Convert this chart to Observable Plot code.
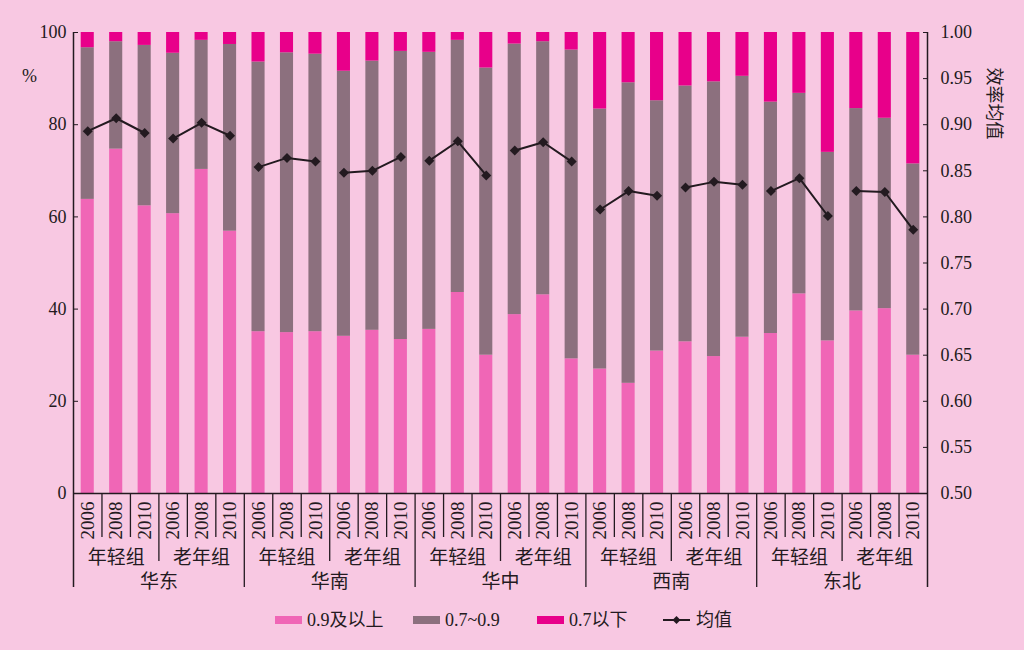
<!DOCTYPE html>
<html>
<head>
<meta charset="utf-8">
<script src="https://cdn.jsdelivr.net/npm/d3@7"></script>
<script src="https://cdn.jsdelivr.net/npm/@observablehq/plot@0.6"></script>
<style>
  html, body { margin: 0; padding: 0; background: #f8c8e2; }
  #chart { width: 1024px; height: 600px; }
  #legend { position: relative; width: 1024px; height: 50px; font-family: "Liberation Serif", "Noto Sans CJK SC", serif; font-size: 18px; color: #231a20; }
  .item { position: absolute; top: 10px; height: 20px; line-height: 20px; white-space: nowrap; display: flex; align-items: center; }
  .sw { display: inline-block; width: 27px; height: 8px; margin-right: 5px; }
</style>
</head>
<body>
<div id="chart"></div>
<div id="legend"></div>
<script>
// ---- data ----
const regions = ["华东", "华南", "华中", "西南", "东北"];
const groups = ["年轻组", "老年组"];
const years = ["2006", "2008", "2010"];
const categories = ["0.9及以上", "0.7~0.9", "0.7以下"];
const meanLabel = "均值";

// share (%) of samples with efficiency >= 0.9
const high = [63.8, 74.7, 62.4, 60.7, 70.3, 56.9,
              35.1, 34.9, 35.1, 34.1, 35.4, 33.4,
              35.6, 43.6, 30.0, 38.8, 43.1, 29.2,
              27.0, 23.9, 30.9, 32.9, 29.7, 33.9,
              34.7, 43.3, 33.1, 39.6, 40.1, 30.0];
// share (%) with efficiency 0.7~0.9
const mid = [32.9, 23.3, 34.8, 34.8, 28.0, 40.5,
             58.5, 60.7, 60.2, 57.5, 58.4, 62.5,
             60.1, 54.7, 62.3, 58.7, 54.9, 67.0,
             56.4, 65.2, 54.3, 55.5, 59.6, 56.6,
             50.2, 43.5, 40.9, 43.9, 41.3, 41.5];
// share (%) with efficiency < 0.7
const low = [3.3, 2.0, 2.8, 4.5, 1.7, 2.6,
             6.4, 4.4, 4.7, 8.4, 6.2, 4.1,
             4.3, 1.7, 7.7, 2.5, 2.0, 3.8,
             16.6, 10.9, 14.8, 11.6, 10.7, 9.5,
             15.1, 13.2, 26.0, 16.5, 18.6, 28.5];
// mean efficiency (right axis)
const meanEff = [0.893, 0.907, 0.891, 0.885, 0.902, 0.888,
                 0.854, 0.864, 0.860, 0.848, 0.850, 0.865,
                 0.861, 0.882, 0.845, 0.872, 0.881, 0.860,
                 0.808, 0.828, 0.823, 0.832, 0.838, 0.835,
                 0.828, 0.842, 0.801, 0.828, 0.827, 0.786];

const leftTicks = [0, 20, 40, 60, 80, 100];
const rightTickValues = [0.50, 0.55, 0.60, 0.65, 0.70, 0.75, 0.80, 0.85, 0.90, 0.95, 1.00];

// ---- styling ----
const colors = ["#f066b6", "#8c707e", "#e8008a"];
const INK = "#231a20";
const FONT = "'Liberation Serif', 'Noto Sans CJK SC', serif";

// ---- build tables ----
const rows = [];
let i = 0;
for (const r of regions) for (const g of groups) for (const y of years) {
  rows.push({key: `${r}|${g}|${y}`, region: r, group: g, year: y,
             high: high[i], mid: mid[i], low: low[i], mean: meanEff[i]});
  i++;
}
const keys = rows.map(d => d.key);
const stacked = rows.flatMap(d => [
  {key: d.key, cat: categories[0], v: d.high},
  {key: d.key, cat: categories[1], v: d.mid},
  {key: d.key, cat: categories[2], v: d.low}
]);
// map mean (0.5..1.0) onto the percent scale (0..100)
const toPct = m => (m - 0.5) * 200;
const fromPct = p => 0.5 + p / 200;

const W = 1024, H = 600, mL = 73, mR = 97, mT = 32, mB = 107;
const pIn = 0.54, pOut = 0.27;
const step = (W - mL - mR) / (keys.length - pIn + 2 * pOut);

const yearSeps = rows.filter(d => d.year !== "2006");
const groupSeps = rows.filter(d => d.year === "2006" && d.group === "老年组");
const regionSeps = rows.filter(d => d.year === "2006" && d.group === "年轻组" && d.region !== regions[0]);

const chart = Plot.plot({
  width: W, height: H,
  marginLeft: mL, marginRight: mR, marginTop: mT, marginBottom: mB,
  style: {background: "transparent", fontFamily: FONT, fontSize: "18px", color: INK, overflow: "visible"},
  x: {domain: keys, paddingInner: pIn, paddingOuter: pOut, round: false, axis: null},
  y: {domain: [0, 100], axis: null},
  color: {domain: categories, range: colors},
  marks: [
    Plot.barY(stacked, {x: "key", y: "v", fill: "cat"}),
    Plot.ruleY([0], {stroke: INK, strokeWidth: 1.5}),
    Plot.line(rows, {x: "key", y: d => toPct(d.mean), z: d => d.region + d.group, stroke: INK, strokeWidth: 2}),
    Plot.dot(rows, {x: "key", y: d => toPct(d.mean), symbol: "diamond2", r: 4.5, fill: INK, stroke: null}),
    Plot.axisY({anchor: "left", ticks: leftTicks, tickSize: -5, tickPadding: 12, label: null, stroke: INK}),
    Plot.axisY({anchor: "right", ticks: rightTickValues.map(toPct), tickFormat: p => fromPct(p).toFixed(2), tickSize: -5, tickPadding: 18, label: null, stroke: INK}),
    Plot.text(["%"], {frameAnchor: "top-left", textAnchor: "middle", lineAnchor: "middle", dx: -44, dy: 44, fill: INK}),
    Plot.text(["效率均值"], {frameAnchor: "top-right", textAnchor: "middle", lineAnchor: "middle", rotate: 90, dx: 66, dy: 71, fill: INK}),
    // outer axis lines
    Plot.ruleX([keys[0]], {x: d => d, dx: -step / 2, insetBottom: -94, stroke: INK, strokeWidth: 1.5}),
    Plot.ruleX([keys[keys.length - 1]], {x: d => d, dx: step / 2, insetBottom: -94, stroke: INK, strokeWidth: 1.5}),
    // hierarchical category separators
    Plot.ruleX(yearSeps, {x: "key", dx: -step / 2, y1: 0, y2: 0, insetBottom: -44, stroke: INK, strokeWidth: 1.3}),
    Plot.ruleX(groupSeps, {x: "key", dx: -step / 2, y1: 0, y2: 0, insetBottom: -68, stroke: INK, strokeWidth: 1.3}),
    Plot.ruleX(regionSeps, {x: "key", dx: -step / 2, y1: 0, y2: 0, insetBottom: -94, stroke: INK, strokeWidth: 1.3}),
    // category labels
    Plot.text(rows, {x: "key", text: "year", frameAnchor: "bottom", lineAnchor: "middle", rotate: -90, textAnchor: "end", dy: 8, fontSize: 19, fill: INK}),
    Plot.text(rows.filter(d => d.year === "2008"), {x: "key", text: "group", frameAnchor: "bottom", lineAnchor: "middle", dy: 64, fontSize: 19, fill: INK}),
    Plot.text(rows.filter(d => d.group === "年轻组" && d.year === "2010"), {x: "key", text: "region", frameAnchor: "bottom", lineAnchor: "middle", dx: step / 2, dy: 88, fontSize: 19, fill: INK})
  ]
});
document.getElementById("chart").appendChild(chart);

// ---- legend ----
const legend = d3.select("#legend");
const legendLeft = [275, 413, 537];
categories.forEach((c, k) => {
  const it = legend.append("div").attr("class", "item").style("left", legendLeft[k] + "px");
  it.append("span").attr("class", "sw").style("background", colors[k]);
  it.append("span").text(c);
});
const lit = legend.append("div").attr("class", "item").style("left", "663px");
const ls = lit.append("svg").attr("width", 27).attr("height", 12).style("margin-right", "6px");
ls.append("line").attr("x1", 0).attr("x2", 27).attr("y1", 6).attr("y2", 6).attr("stroke", INK).attr("stroke-width", 2);
ls.append("path").attr("d", d3.symbol(d3.symbolDiamond2, 40)()).attr("transform", "translate(13.5,6)").attr("fill", INK);
lit.append("span").text(meanLabel);
</script>
</body>
</html>
